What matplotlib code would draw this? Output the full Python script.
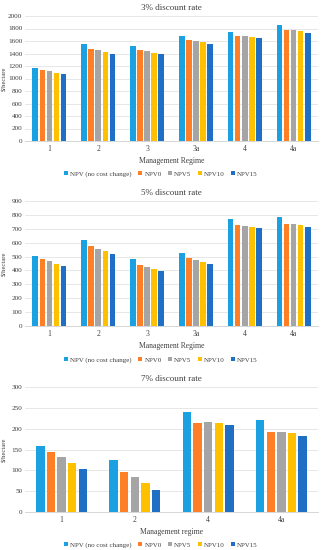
# NPV per hectare by management regime at three discount rates,
# grouped bars, one panel per discount rate.

import numpy as np
import matplotlib
matplotlib.use('Agg')
import matplotlib.pyplot as plt

# series names and colours
series = ['NPV (no cost change)', 'NPV0', 'NPV5', 'NPV10', 'NPV15']
colors = ['#1BA1E2', '#FF7F27', '#A5A5A5', '#FFC000', '#1F6FC5']

# 3% discount rate
regimes_3 = ['1', '2', '3', '3a', '4', '4a']
npv_3 = [
    [1170, 1545, 1525, 1680, 1750, 1850],   # NPV (no cost change)
    [1130, 1480, 1460, 1620, 1685, 1780],   # NPV0
    [1115, 1455, 1440, 1600, 1675, 1770],   # NPV5
    [1095, 1425, 1415, 1580, 1660, 1755],   # NPV10
    [1075, 1400, 1390, 1560, 1645, 1735],   # NPV15
]

# 5% discount rate
regimes_5 = ['1', '2', '3', '3a', '4', '4a']
npv_5 = [
    [505, 618, 483, 525, 768, 782],
    [480, 575, 440, 488, 725, 735],
    [465, 558, 425, 473, 722, 732],
    [450, 540, 410, 458, 715, 725],
    [435, 518, 393, 447, 705, 712],
]

# 7% discount rate
regimes_7 = ['1', '2', '4', '4a']
npv_7 = [
    [158, 124, 241, 222],
    [143, 96, 213, 191],
    [131, 83, 215, 192],
    [118, 69, 213, 189],
    [104, 53, 208, 183],
]

panels = [
    ('3% discount rate', regimes_3, npv_3, 2000, 200, 'Management Regime'),
    ('5% discount rate', regimes_5, npv_5, 900, 100, 'Management Regime'),
    ('7% discount rate', regimes_7, npv_7, 300, 50, 'Management regime'),
]

plt.rcParams['font.family'] = ['Liberation Serif', 'DejaVu Serif']

W, H = 322, 550
fig = plt.figure(figsize=(W/100, H/100), dpi=100)

# axes boxes in pixels: (top, bottom), legend y
boxes = [(16, 141, 174), (201, 326, 360), (387, 512, 545)]
left_px, right_px = 25, 318

pitch = 0.145
width = 0.115

for (title, regimes, data, ymax, ystep, xlab), (top, bot, leg_y) in zip(panels, boxes):
    ax = fig.add_axes([left_px/W, 1 - bot/H, (right_px-left_px)/W, (bot-top)/H])
    x = np.arange(len(regimes))
    for i, (name, vals) in enumerate(zip(series, data)):
        off = (i - 2) * pitch
        ax.bar(x + off, vals, width, color=colors[i], label=name, zorder=3)

    ax.set_xlim(-0.5, len(regimes) - 0.5)
    ax.set_ylim(0, ymax)
    ax.set_yticks(np.arange(0, ymax + 1, ystep))
    ax.set_xticks(x)
    ax.set_xticklabels(regimes)
    ax.tick_params(length=0, labelsize=5.5, colors='#404040', pad=3)
    ax.tick_params(axis='y', labelsize=5.2, pad=2)
    ax.grid(axis='y', color='#E3E3E3', linewidth=0.6, zorder=0)
    for s in ['top', 'right', 'left']:
        ax.spines[s].set_visible(False)
    ax.spines['bottom'].set_color('#D0D0D0')
    ax.spines['bottom'].set_linewidth(0.6)

    ax.set_title(title, fontsize=6.5, color='#404040', pad=4)
    ax.set_xlabel(xlab, fontsize=5.5, color='#404040')
    ax.xaxis.set_label_coords(0.5, -0.125)
    ax.set_ylabel(r'\$/hectare', fontsize=4.8, color='#404040')
    ax.yaxis.set_label_coords(-0.06, 0.5)

    ax.legend(loc='center', bbox_to_anchor=(0.5, 1 - leg_y/H),
              bbox_transform=fig.transFigure, ncol=5, frameon=False,
              fontsize=5, handlelength=0.6, handleheight=0.6,
              handletextpad=0.3, columnspacing=0.9, labelcolor='#404040')

fig.savefig('out.png', dpi=100)
